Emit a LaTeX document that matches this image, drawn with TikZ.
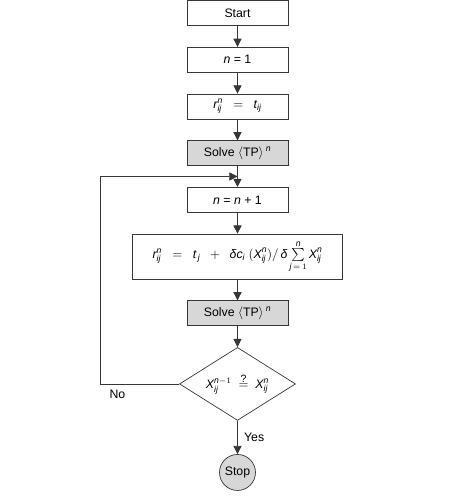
\documentclass[tikz,border=0pt]{standalone}
\usepackage{amsmath}
\usepackage{fontspec}
\setmainfont{Liberation Sans}
\usepackage{tikz}
\usetikzlibrary{shapes,positioning,calc,arrows.meta}
\definecolor{boxgray}{RGB}{215,215,215}
\definecolor{linegray}{RGB}{55,55,55}
\newcommand{\vi}[1]{\textit{#1}}

\begin{document}
\begin{tikzpicture}[
    font=\fontsize{10.5pt}{12pt}\selectfont,
    node distance=0.63cm,
    stepbox/.style={rectangle, draw=linegray, line width=0.6pt, minimum width=3.03cm, minimum height=0.75cm, inner sep=0pt},
    solvebox/.style={stepbox, fill=boxgray},
    arr/.style={draw=linegray, line width=0.6pt, -{Triangle[length=7pt,width=7pt]}}
]
    \useasboundingbox (0,0) rectangle (14.22,-14.97);

    \node[stepbox] (start) at (7.125,-0.39) {Start};
    \node[stepbox, below=of start] (init) {\vi{n} = 1};
    \node[stepbox, below=of init] (rinit) {$\vi{r}^{\vi{n}}_{\vi{ij}}\ \ =\ \ \vi{t}_{\vi{ij}}$};
    \node[solvebox, below=of rinit] (solveA) {Solve $\langle$TP$\rangle$\,\textsuperscript{\vi{n}}};
    \node[stepbox, below=of solveA] (upd) {\vi{n} = \vi{n} + 1};
    \node[stepbox, minimum width=6.3cm, minimum height=1.35cm, below=of upd] (rupd)
        {$\vi{r}^{\vi{n}}_{\vi{ij}}\ \ =\ \ \vi{t}_{\,\vi{j}}\ \ +\ \ \vi{δc}_{\vi{i}}\ (\vi{X}^{\vi{n}}_{\vi{ij}})/\,\vi{δ}\sum\limits_{\vi{j}\,=\,1}^{\vi{n}}\vi{X}^{\vi{n}}_{\vi{ij}}$};
    \node[solvebox, below=of rupd] (solveB) {Solve $\langle$TP$\rangle$\,\textsuperscript{\vi{n}}};
    \node[diamond, draw=linegray, line width=0.6pt, aspect=1.6, inner sep=0pt, minimum width=3.48cm, minimum height=2.19cm, below=of solveB] (check)
        {$\vi{X}^{\vi{n}-1}_{\vi{ij}}\ \overset{\raisebox{-3pt}{\small ?}}{=}\ \vi{X}^{\vi{n}}_{\vi{ij}}$};
    \node[circle, draw=linegray, line width=0.6pt, fill=boxgray, minimum size=1.08cm, inner sep=0pt, below=1cm of check] (stop) {Stop};

    \coordinate (join) at ($(solveA.south)!0.5!(upd.north)$);
    \coordinate (back) at (3.0,0);

    \draw[arr] (start) -- (init);
    \draw[arr] (init) -- (rinit);
    \draw[arr] (rinit) -- (solveA);
    \draw[arr] (solveA) -- (upd);
    \draw[arr] (upd) -- (rupd);
    \draw[arr] (rupd) -- (solveB);
    \draw[arr] (solveB) -- (check);
    \draw[arr] (check) -- node[right=2pt] {Yes} (stop);
    \draw[arr] (check.west) -- node[below, pos=0.78, yshift=-2pt] {No} (check.west -| back) |- (join);
\end{tikzpicture}
\end{document}
